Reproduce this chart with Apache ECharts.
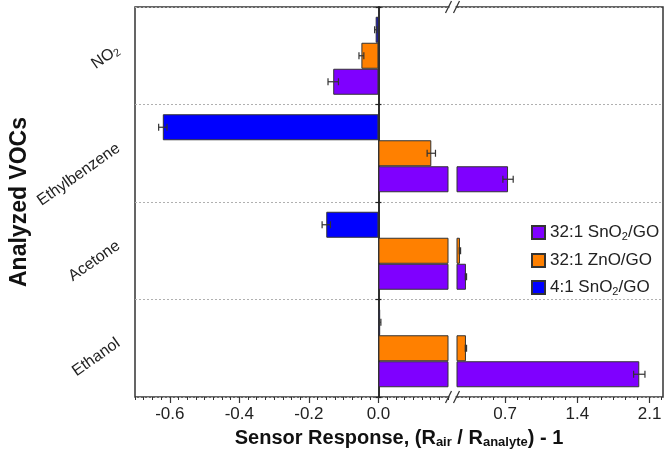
<!DOCTYPE html>
<html>
<head>
<meta charset="utf-8">
<script src="https://cdn.jsdelivr.net/npm/echarts@6/dist/echarts.min.js"></script>
<style>html,body{margin:0;padding:0;background:#fff}#c{width:666px;height:458px}</style>
</head>
<body>
<div id="c"></div>
<script>
// ---- data ----
const categories = ['Ethanol', 'Acetone', 'Ethylbenzene', 'NO{sub|2}'];
const seriesNames = ['32:1 SnO2/GO', '32:1 ZnO/GO', '4:1 SnO2/GO'];
const sno2_32 = [2.00, 0.32, 0.728, -0.13];
const zno_32 = [0.32, 0.262, 0.152, -0.049];
const sno2_4 = [0.005, -0.15, -0.62, -0.008];
const sno2_32_err = [0.055, 0.006, 0.05, 0.015];
const zno_32_err = [0.006, 0.006, 0.012, 0.007];
const sno2_4_err = [0.002, 0.012, 0.012, 0.003];
const leftTickLabels = [-0.6, -0.4, -0.2, 0.0];
const rightTickLabels = [0.7, 1.4, 2.1];

// ---- layout ----
const LEFT = 135, BREAK_L = 448, BREAK_R = 457, RIGHT = 663, TOP = 7, BOTTOM = 397;
const L_MIN = -0.7, L_MAX = 0.2, R_MIN = 0.7 / 3, R_MAX = 2.23;
const GAP = 0.2;
const colors = ['#7F00FF', '#FF8000', '#0000FF'];
const FONT = 'Liberation Sans, Arial, sans-serif';

const leftMinor = []; for (let k = -28; k <= 8; k++) leftMinor.push(+(k * 0.025).toFixed(4));
const rightMinor = []; for (let k = 2; k <= 19; k++) rightMinor.push(+(k * 0.7 / 6).toFixed(6));

const values = [sno2_32, zno_32, sno2_4];
const errs = [sno2_32_err, zno_32_err, sno2_4_err];
const drawOrder = [2, 1, 0]; // top-to-bottom within each category: blue, orange, purple

const chart = echarts.init(document.getElementById('c'), null, {renderer: 'canvas'});

const grids = [
  {left: LEFT, top: TOP, width: BREAK_L - LEFT, height: BOTTOM - TOP},
  {left: BREAK_R, top: TOP, width: RIGHT - BREAK_R, height: BOTTOM - TOP},
  {left: LEFT, top: TOP, width: RIGHT - LEFT, height: BOTTOM - TOP, show: true,
   borderColor: '#333', borderWidth: 1.5, backgroundColor: 'transparent'}
];

const tickLabelStyle = {fontSize: 17, color: '#222', fontFamily: FONT, margin: 9,
  formatter: v => (+v).toFixed(1)};

const xAxes = [
  {gridIndex: 0, type: 'value', position: 'bottom', offset: 0, min: L_MIN, max: L_MAX, axisLine: {show: false, onZero: false}, splitLine: {show: false},
   axisTick: {show: true, length: 3, customValues: leftMinor, lineStyle: {color: '#333'}}, axisLabel: {show: false}},
  {gridIndex: 0, type: 'value', position: 'bottom', offset: 0, min: L_MIN, max: L_MAX, axisLine: {show: false, onZero: false}, splitLine: {show: false},
   axisTick: {show: true, length: 6, customValues: leftTickLabels, lineStyle: {color: '#333', width: 1.2}},
   axisLabel: Object.assign({customValues: leftTickLabels}, tickLabelStyle)},
  {gridIndex: 1, type: 'value', position: 'bottom', offset: 0, min: R_MIN, max: R_MAX, axisLine: {show: false, onZero: false}, splitLine: {show: false},
   axisTick: {show: true, length: 3, customValues: rightMinor, lineStyle: {color: '#333'}}, axisLabel: {show: false}},
  {gridIndex: 1, type: 'value', position: 'bottom', offset: 0, min: R_MIN, max: R_MAX, axisLine: {show: false, onZero: false}, splitLine: {show: false},
   axisTick: {show: true, length: 6, customValues: rightTickLabels, lineStyle: {color: '#333', width: 1.2}},
   axisLabel: Object.assign({customValues: rightTickLabels}, tickLabelStyle)},
  {gridIndex: 2, type: 'value', position: 'bottom', offset: 0, min: 0, max: 1, axisLine: {show: false, onZero: false}, axisTick: {show: false},
   axisLabel: {show: false}, splitLine: {show: false},
   name: 'Sensor Response, (R{sub|air} / R{sub|analyte}) - 1', nameLocation: 'middle', nameGap: 30,
   nameTextStyle: {fontSize: 20, fontWeight: 'bold', color: '#111', fontFamily: FONT,
     rich: {sub: {fontSize: 13, fontWeight: 'bold', color: '#111', fontFamily: FONT, padding: [9, 0, 0, 0]}}}}
];

const zeroAxis = inside => ({
  gridIndex: 0, type: 'category', data: categories, position: 'left',
  axisLine: {show: true, onZero: true, onZeroAxisIndex: 1, lineStyle: {color: '#222', width: 1.5}},
  axisTick: {show: true, inside: inside, length: 3, lineStyle: {color: '#222', width: 1.2}},
  axisLabel: {show: false}, splitLine: {show: false}
});

const yAxes = [
  {gridIndex: 0, type: 'category', data: categories, position: 'left', axisLine: {show: false, onZero: false}, axisTick: {show: false},
   splitLine: {show: false},
   axisLabel: {rotate: 35, fontSize: 16, color: '#222', fontFamily: FONT, margin: 12, verticalAlign: 'bottom',
     rich: {sub: {fontSize: 11, color: '#222', fontFamily: FONT, padding: [7, 0, 0, 0]}}},
   name: 'Analyzed VOCs', nameLocation: 'middle', nameGap: 104, nameRotate: 90,
   nameTextStyle: {fontSize: 23, fontWeight: 'bold', color: '#111', fontFamily: FONT}},
  {gridIndex: 1, type: 'category', data: categories, show: false},
  {gridIndex: 2, type: 'category', data: categories, axisLine: {show: false, onZero: false}, axisTick: {show: false},
   axisLabel: {show: false},
   splitLine: {show: true, lineStyle: {type: [2, 2], color: '#b0b0b0', width: 1}}},
  zeroAxis(false),
  zeroAxis(true)
];

const series = [];
[0, 1].forEach(g => {
  drawOrder.forEach((k, slot) => {
    series.push({
      type: 'bar', name: seriesNames[k], xAxisIndex: g === 0 ? 1 : 3, yAxisIndex: g,
      data: values[k], barGap: '0%', barCategoryGap: (GAP * 100) + '%', clip: true,
      itemStyle: {color: colors[k], borderColor: '#333', borderWidth: 1}, z: 3
    });
  });
});
[0, 1].forEach(g => {
  drawOrder.forEach((k, slot) => {
    const lo = g === 0 ? L_MIN : R_MIN, hi = g === 0 ? L_MAX : R_MAX;
    series.push({
      type: 'custom', name: seriesNames[k] + ' err', xAxisIndex: g === 0 ? 1 : 3, yAxisIndex: g,
      data: values[k].map((v, i) => [v, i, errs[k][i]]), encode: {x: 0, y: 1}, clip: true, silent: true, z: 6,
      renderItem: (params, api) => {
        const v = api.value(0), c = api.value(1), e = api.value(2);
        if (v < lo || v > hi) return null;
        const band = api.size([0, 1])[1];
        const bw = band * (1 - GAP) / 3;
        const p = api.coord([v, c]);
        const y = p[1] + (slot - 1) * bw;
        const x1 = api.coord([v - e, c])[0], x2 = api.coord([v + e, c])[0];
        const cap = 3.5, st = {stroke: '#333', lineWidth: 1.2};
        return {type: 'group', children: [
          {type: 'line', shape: {x1: x1, y1: y, x2: x2, y2: y}, style: st},
          {type: 'line', shape: {x1: x1, y1: y - cap, x2: x1, y2: y + cap}, style: st},
          {type: 'line', shape: {x1: x2, y1: y - cap, x2: x2, y2: y + cap}, style: st}
        ]};
      }
    });
  });
});

// break marks on top and bottom frame lines
const mid = (BREAK_L + BREAK_R) / 2;
function breakMark(y) {
  return [
    {type: 'rect', shape: {x: mid - 3, y: y - 3, width: 6, height: 6}, style: {fill: '#fff'}, z: 100},
    {type: 'line', shape: {x1: mid - 7, y1: y + 6, x2: mid - 1, y2: y - 6}, style: {stroke: '#333', lineWidth: 1.3}, z: 101},
    {type: 'line', shape: {x1: mid + 1, y1: y + 6, x2: mid + 7, y2: y - 6}, style: {stroke: '#333', lineWidth: 1.3}, z: 101}
  ];
}

chart.setOption({
  animation: false,
  backgroundColor: '#fff',
  grid: grids,
  xAxis: xAxes,
  yAxis: yAxes,
  legend: {
    data: seriesNames, orient: 'vertical', left: 526, top: 219, itemWidth: 13, itemHeight: 13, itemGap: 10,
    icon: 'rect',
    formatter: n => n.replace('O2', 'O{sub|2}'),
    textStyle: {fontSize: 17, color: '#222', fontFamily: FONT,
      rich: {sub: {fontSize: 11, color: '#222', fontFamily: FONT, padding: [8, 0, 0, 0]}}}
  },
  series: series,
  graphic: breakMark(TOP).concat(breakMark(BOTTOM))
});
</script>
</body>
</html>
